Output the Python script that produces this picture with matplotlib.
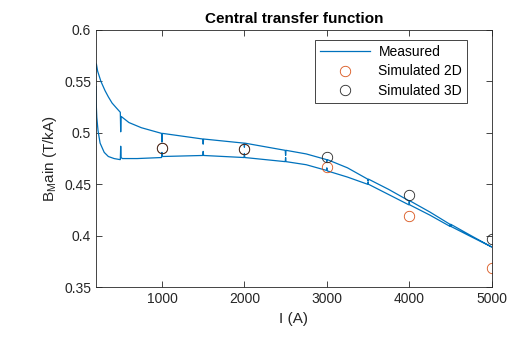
import matplotlib
matplotlib.use("Agg")
import matplotlib.pyplot as plt
import numpy as np

plt.rcParams.update({
    "font.family": ["Liberation Sans", "DejaVu Sans"],
    "font.size": 10,
    "axes.linewidth": 0.6,
    "xtick.direction": "in",
    "ytick.direction": "in",
    "xtick.top": True,
    "ytick.right": True,
    "xtick.major.size": 4,
    "ytick.major.size": 4,
    "xtick.major.width": 0.6,
    "ytick.major.width": 0.6,
})

# ---- measured hysteresis loop: rising branch then falling branch ----
I_up = [200, 202, 210, 225, 250, 300, 350, 420, 490, 495, 500, 505, 520, 700,
        995, 1000, 1005, 1495, 1500, 1505, 1995, 2000, 2005, 2495, 2500, 2505,
        2750, 2995, 3000, 3005, 3250, 3495, 3500, 3505, 3750, 3995, 4000, 4005,
        4250, 4495, 4500, 4505, 4750, 5000]
B_up = [0.545, 0.530, 0.515, 0.502, 0.490, 0.481, 0.477, 0.475, 0.474, 0.474,
        0.487, 0.476, 0.475, 0.475, 0.476, 0.481, 0.477, 0.478, 0.482, 0.478,
        0.476, 0.480, 0.476, 0.472, 0.476, 0.472, 0.469, 0.4635, 0.466, 0.463,
        0.457, 0.450, 0.452, 0.450, 0.440, 0.430, 0.432, 0.430, 0.420, 0.409,
        0.411, 0.409, 0.399, 0.389]

I_down = [5000, 4750, 4505, 4500, 4495, 4250, 4005, 4000, 3995, 3750, 3505,
          3500, 3495, 3250, 3005, 3000, 2995, 2750, 2505, 2500, 2495, 2005,
          2000, 1995, 1505, 1500, 1495, 1005, 1000, 995, 750, 600, 505, 500,
          495, 450, 395, 350, 310, 260, 220, 205, 200]
B_down = [0.389, 0.400, 0.411, 0.409, 0.411, 0.423, 0.434, 0.432, 0.434, 0.445,
          0.455, 0.453, 0.455, 0.466, 0.474, 0.472, 0.474, 0.4795, 0.483, 0.478,
          0.483, 0.490, 0.486, 0.490, 0.494, 0.489, 0.494, 0.4995, 0.491, 0.4995,
          0.505, 0.510, 0.516, 0.501, 0.520, 0.524, 0.529, 0.535, 0.541, 0.550,
          0.560, 0.567, 0.562]

# ---- simulations ----
I_sim = [1000, 2000, 3000, 4000, 5000]
B_2d = [0.485, 0.484, 0.467, 0.419, 0.369]
B_3d = [0.485, 0.484, 0.477, 0.440, 0.397]

fig = plt.figure(figsize=(5.16, 3.37), dpi=100)
ax = fig.add_axes([0.186, 0.148, 0.767, 0.763])

ax.plot(I_up + I_down, B_up + B_down, color="#0072BD", lw=0.9, label="Measured")
ax.plot(I_sim, B_2d, "o", ms=7.5, mfc="none", mec="#D95319", mew=0.6,
        label="Simulated 2D")
ax.plot(I_sim, B_3d, "o", ms=7.5, mfc="none", mec="#262626", mew=0.6,
        label="Simulated 3D")

ax.set_xlim(200, 5000)
ax.set_ylim(0.35, 0.6)
ax.set_xticks([1000, 2000, 3000, 4000, 5000])
ax.set_yticks([0.35, 0.4, 0.45, 0.5, 0.55, 0.6])
ax.set_yticklabels(["0.35", "0.4", "0.45", "0.5", "0.55", "0.6"])
ax.tick_params(colors="#262626", labelsize=10)
for s in ax.spines.values():
    s.set_color("#262626")

ax.set_xlabel("I (A)", fontsize=11, color="#262626")
ax.set_ylabel("B$_\\mathregular{M}$ain (T/kA)", fontsize=11, color="#262626")
ax.set_title("Central transfer function", fontsize=11, fontweight="bold",
             color="black", pad=5)

leg = ax.legend(loc="upper right", bbox_to_anchor=(467 / 516, 1 - 40 / 337),
                bbox_transform=fig.transFigure, fontsize=10, handlelength=3.6,
                fancybox=False, framealpha=1, edgecolor="#262626",
                borderpad=0.35, labelspacing=0.4, handletextpad=0.6,
                borderaxespad=0)
leg.get_frame().set_linewidth(0.6)

fig.savefig("out.png", dpi=100)
